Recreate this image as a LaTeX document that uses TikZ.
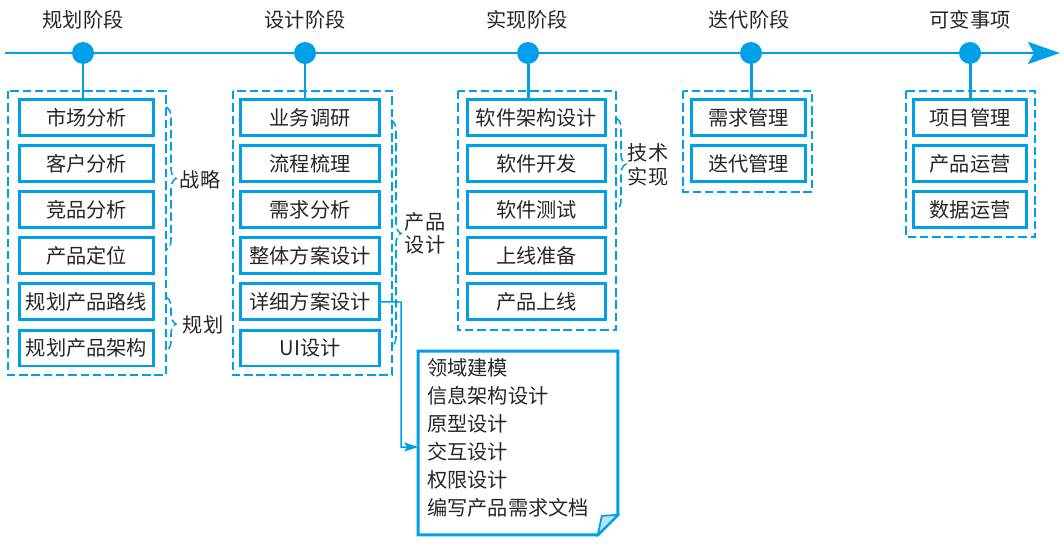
\documentclass[tikz,border=0pt]{standalone}
\usepackage{fontspec}
\setmainfont{Noto Sans CJK SC}
\usetikzlibrary{arrows.meta,decorations.pathreplacing}
\definecolor{lineblue}{RGB}{0,160,233}
\definecolor{foldblue}{RGB}{185,228,247}

\begin{document}
\begin{tikzpicture}[x=0.02cm,y=-0.02cm]
  \tikzstyle{stage}=[circle,fill=lineblue,minimum size=0.44cm,inner sep=0pt]
  \tikzstyle{phase}=[font=\fontsize{11.5}{13}\selectfont,text=black!85,inner sep=0pt]
  \tikzstyle{item}=[draw=lineblue,line width=1.7pt,minimum height=0.72cm,inner sep=0pt,font=\fontsize{11.5}{14}\selectfont,text=black!85]
  \tikzstyle{group}=[draw=lineblue,line width=0.9pt,dash pattern=on 4.8pt off 2.2pt]
  \tikzstyle{bracket}=[group,decorate,decoration={brace,amplitude=0.2cm}]
  \tikzstyle{link}=[draw=lineblue,line width=1.7pt]

  \useasboundingbox (0,0) rectangle (1064,545);

  % time axis
  \coordinate (T-start) at (5,53);
  \coordinate (T-end) at (1060,53);
  \draw[link,-{Stealth[length=0.64cm,width=0.44cm,inset=0.12cm]}] (T-start) -- (T-end);

  \node[stage] (S-1) at (83,53) {};
  \node[stage] (S-2) at (305,53) {};
  \node[stage] (S-3) at (528,53) {};
  \node[stage] (S-4) at (751,53) {};
  \node[stage] (S-5) at (970,53) {};

  \node[phase] (L-1) at (83,20) {规划阶段};
  \node[phase] (L-2) at (305,20) {设计阶段};
  \node[phase] (L-3) at (527,20) {实现阶段};
  \node[phase] (L-4) at (749,20) {迭代阶段};
  \node[phase] (L-5) at (970,20) {可变事项};

  % planning
  \begin{scope}[item/.append style={minimum width=2.68cm}]
    \node[item] (P-1) at (86.5,117.5) {市场分析};
    \node[item] (P-2) at (86.5,163.6) {客户分析};
    \node[item] (P-3) at (86.5,209.7) {竞品分析};
    \node[item] (P-4) at (86.5,255.8) {产品定位};
    \node[item] (P-5) at (86.5,301.9) {规划产品路线};
    \node[item] (P-6) at (86.5,348) {规划产品架构};
  \end{scope}
  \draw[group] (8,91) rectangle (166,375);

  % design
  \begin{scope}[item/.append style={minimum width=2.78cm}]
    \node[item] (D-1) at (310,117.5) {业务调研};
    \node[item] (D-2) at (310,163.6) {流程梳理};
    \node[item] (D-3) at (310,209.7) {需求分析};
    \node[item] (D-4) at (310,255.8) {整体方案设计};
    \node[item] (D-5) at (310,301.9) {详细方案设计};
    \node[item] (D-6) at (310,348) {UI设计};
  \end{scope}
  \draw[group] (233,91) rectangle (392,375);

  % implementation
  \begin{scope}[item/.append style={minimum width=2.76cm}]
    \node[item] (R-1) at (536.5,117.5) {软件架构设计};
    \node[item] (R-2) at (536.5,163.6) {软件开发};
    \node[item] (R-3) at (536.5,209.7) {软件测试};
    \node[item] (R-4) at (536.5,255.8) {上线准备};
    \node[item] (R-5) at (536.5,301.9) {产品上线};
  \end{scope}
  \draw[group] (458,91) rectangle (616,330);

  % iteration
  \begin{scope}[item/.append style={minimum width=2.28cm}]
    \node[item] (I-1) at (748.5,117.5) {需求管理};
    \node[item] (I-2) at (748.5,163.6) {迭代管理};
  \end{scope}
  \draw[group] (683,91) rectangle (812,192);

  % variable items
  \begin{scope}[item/.append style={minimum width=2.26cm}]
    \node[item] (V-1) at (970,117.5) {项目管理};
    \node[item] (V-2) at (970,163.6) {产品运营};
    \node[item] (V-3) at (970,209.7) {数据运营};
  \end{scope}
  \draw[group] (906,91) rectangle (1035,237);

  \draw[link] (S-1) -- (S-1 |- P-1.north);
  \draw[link] (S-2) -- (S-2 |- D-1.north);
  \draw[link] (S-3) -- (S-3 |- R-1.north);
  \draw[link] (S-4) -- (S-4 |- I-1.north);
  \draw[link] (S-5) -- (S-5 |- V-1.north);

  % braces
  \draw[bracket] (166,107) -- (166,250);
  \node[phase] (B-1) at (200,180) {战略};
  \draw[bracket] (166,297) -- (166,351);
  \node[phase] (B-2) at (203,325) {规划};
  \draw[bracket] (391,120) -- (391,347);
  \node[phase,align=center] (B-3) at (425,233) {产品\\设计};
  \draw[bracket] (616,118) -- (616,210);
  \node[phase,align=center,font=\fontsize{11.5}{14}\selectfont] (B-4) at (648,165) {技术\\实现};

  % note
  \node[minimum width=3.98cm,minimum height=3.66cm,inner sep=0pt] (N) at (518,443) {};
  \draw[link] (N.north west) -- (N.north east) -- ([yshift=0.4cm]N.south east)
    -- ([xshift=-0.4cm]N.south east) -- (N.south west) -- cycle;
  \filldraw[fill=foldblue,draw=lineblue,line width=1pt] ([xshift=-0.4cm]N.south east)
    -- ([xshift=-0.32cm,yshift=0.38cm]N.south east) -- ([yshift=0.4cm]N.south east) -- cycle;
  \node[phase,anchor=west,align=left,font=\fontsize{11.5}{15.9}\selectfont] (N-txt) at (427,438)
    {领域建模\\信息架构设计\\原型设计\\交互设计\\权限设计\\编写产品需求文档};

  \coordinate (bend) at (401,302);
  \draw[link,line width=0.85pt,-{Stealth[length=0.28cm,width=0.18cm,inset=0.06cm]}] (D-5.east) -- (bend) |- ([yshift=-0.08cm]N.west);

\end{tikzpicture}
\end{document}
